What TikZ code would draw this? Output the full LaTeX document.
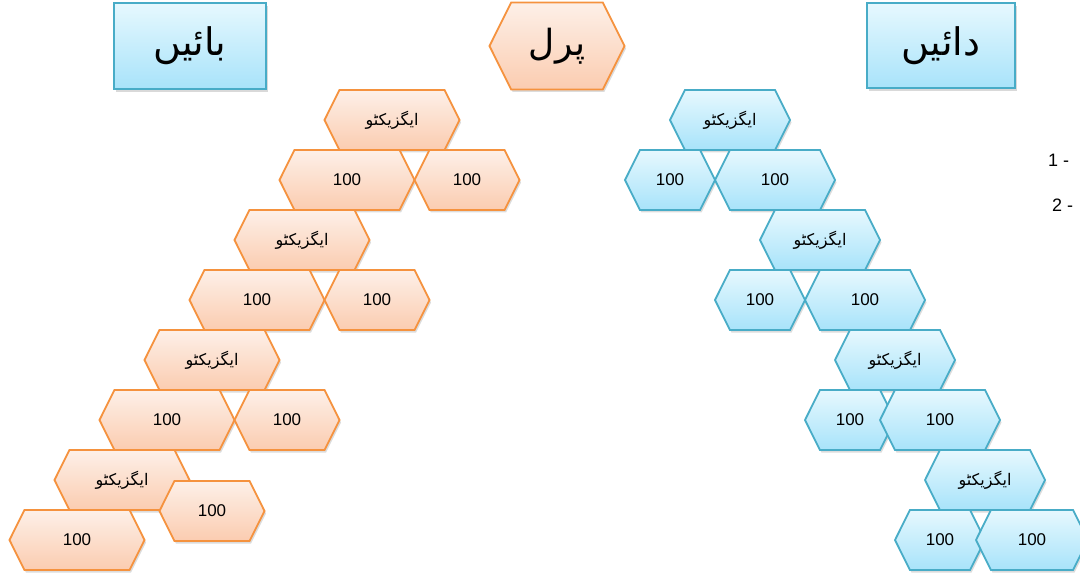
\documentclass[tikz,border=0pt]{standalone}
\usepackage{fontspec}
\setmainfont{Liberation Sans}
\newfontfamily\urdu[Script=Arabic]{DejaVu Sans}
\TeXXeTstate=1
\usetikzlibrary{shapes.symbols,shadows}
\definecolor{oline}{HTML}{F5923E}
\definecolor{otop}{HTML}{FDF0E8}
\definecolor{obot}{HTML}{FBCCB0}
\definecolor{bline}{HTML}{48ACC7}
\definecolor{btop}{HTML}{E6F8FE}
\definecolor{bbot}{HTML}{A8E3FA}
\tikzset{
  hexbase/.style={shape=signal, signal to=east and west, signal pointer angle=127,
    line width=1.8pt, minimum height=60pt, inner sep=0pt,
    drop shadow={shadow xshift=1.5pt,shadow yshift=-2.5pt,opacity=0.28}},
  ohex/.style={hexbase, draw=oline, top color=otop, bottom color=obot},
  bhex/.style={hexbase, draw=bline, top color=btop, bottom color=bbot},
  oexec/.style={ohex, minimum width=135pt, font=\urdu\fontsize{16}{18}\selectfont},
  onum/.style={ohex, font=\fontsize{17}{19}\selectfont},
  bexec/.style={bhex, minimum width=120pt, font=\urdu\fontsize{16}{18}\selectfont},
  bnum/.style={bhex, font=\fontsize{17}{19}\selectfont},
  titlebox/.style={rectangle, draw=bline, line width=2pt, top color=btop, bottom color=bbot,
    inner sep=0pt, font=\urdu\fontsize{38}{42}\selectfont,
    drop shadow={shadow xshift=1.5pt,shadow yshift=-3pt,opacity=0.3}},
  listtext/.style={anchor=west, inner sep=0pt, font=\fontsize{18}{20}\selectfont}
}
\newcommand{\ur}[1]{\beginR #1\endR}
\begin{document}
\begin{tikzpicture}[x=1pt,y=-1pt]
\useasboundingbox (0,0) rectangle (1080,575);
\clip (0,0) rectangle (1080,575);
% titles
\node[titlebox, minimum width=152pt, minimum height=86pt] (left) at (190,46) {\ur{بائیں}};
\node[ohex, minimum width=135pt, minimum height=87pt, font=\urdu\fontsize{36}{40}\selectfont] (perl) at (557,46) {\ur{پرل}};
\node[titlebox, minimum width=148pt, minimum height=85pt] (right) at (941,46) {\ur{دائیں}};
% left (orange) staircase
\node[oexec] (le1) at (392,120) {\ur{ایگزیکٹو}};
\node[onum, minimum width=135pt] (la1) at (347,180) {100};
\node[onum, minimum width=105pt] (lb1) at (467,180) {100};
\node[oexec] (le2) at (302,240) {\ur{ایگزیکٹو}};
\node[onum, minimum width=135pt] (la2) at (257,300) {100};
\node[onum, minimum width=105pt] (lb2) at (377,300) {100};
\node[oexec] (le3) at (212,360) {\ur{ایگزیکٹو}};
\node[onum, minimum width=135pt] (la3) at (167,420) {100};
\node[onum, minimum width=105pt] (lb3) at (287,420) {100};
\node[oexec] (le4) at (122,480) {\ur{ایگزیکٹو}};
\node[onum, minimum width=135pt] (la4) at (77,540) {100};
\node[onum, minimum width=105pt] (lb4) at (212,511) {100};
% right (blue) staircase
\node[bexec] (re1) at (730,120) {\ur{ایگزیکٹو}};
\node[bnum, minimum width=90pt] (ra1) at (670,180) {100};
\node[bnum, minimum width=120pt] (rb1) at (775,180) {100};
\node[bexec] (re2) at (820,240) {\ur{ایگزیکٹو}};
\node[bnum, minimum width=90pt] (ra2) at (760,300) {100};
\node[bnum, minimum width=120pt] (rb2) at (865,300) {100};
\node[bexec] (re3) at (895,360) {\ur{ایگزیکٹو}};
\node[bnum, minimum width=90pt] (ra3) at (850,420) {100};
\node[bnum, minimum width=120pt] (rb3) at (940,420) {100};
\node[bexec] (re4) at (985,480) {\ur{ایگزیکٹو}};
\node[bnum, minimum width=90pt] (ra4) at (940,540) {100};
\node[bnum, minimum width=112pt] (rb4) at (1032,540) {100};
% list fragments
\node[listtext] (l1) at (1048,160) {1 -};
\node[listtext] (l2) at (1052,205) {2 -};
\end{tikzpicture}
\end{document}
